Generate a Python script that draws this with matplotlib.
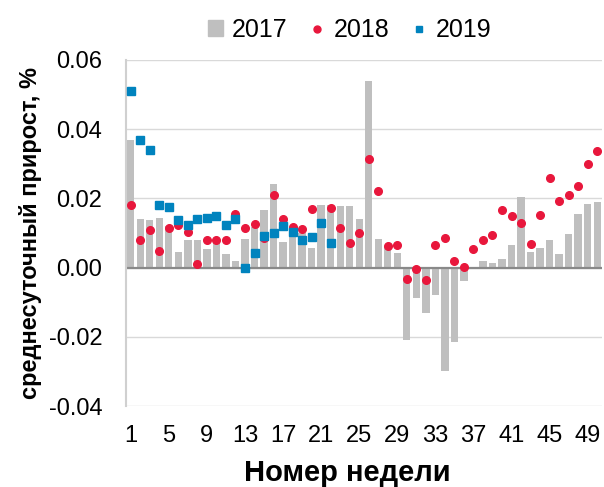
import matplotlib
matplotlib.use("Agg")
import matplotlib.pyplot as plt
from matplotlib.patches import Patch
from matplotlib.lines import Line2D

plt.rcParams['font.family'] = ['Liberation Sans', 'DejaVu Sans']

weeks = list(range(1, 51))

prirost_2017 = [0.0368, 0.0140, 0.0137, 0.0143, 0.0120, 0.0044, 0.0080, 0.0080, 0.0054, 0.0080,
                0.0039, 0.0020, 0.0083, 0.0118, 0.0166, 0.0241, 0.0074, 0.0118, 0.0100, 0.0056,
                0.0182, 0.0182, 0.0179, 0.0179, 0.0141, 0.0538, 0.0083, 0.0061, 0.0043, -0.0208,
                -0.0089, -0.0130, -0.0080, -0.0300, -0.0214, -0.0040, 0.0000, 0.0020, 0.0014, 0.0024,
                0.0064, 0.0203, 0.0045, 0.0057, 0.0080, 0.0039, 0.0097, 0.0155, 0.0183, 0.0189]

prirost_2018 = [0.0181, 0.0080, 0.0109, 0.0048, 0.0114, 0.0122, 0.0103, 0.0010, 0.0080, 0.0080,
                0.0080, 0.0155, 0.0114, 0.0125, 0.0084, 0.0209, 0.0139, 0.0118, 0.0110, 0.0170,
                0.0130, 0.0171, 0.0114, 0.0070, 0.0100, 0.0314, 0.0220, 0.0062, 0.0065, -0.0034,
                -0.0004, -0.0037, 0.0065, 0.0086, 0.0020, 0.0002, 0.0053, 0.0079, 0.0095, 0.0165,
                0.0149, 0.0129, 0.0067, 0.0151, 0.0259, 0.0193, 0.0209, 0.0236, 0.0299, 0.0337]

prirost_2019 = [0.0510, 0.0369, 0.0339, 0.0181, 0.0176, 0.0137, 0.0123, 0.0141, 0.0144, 0.0150,
                0.0123, 0.0141, 0.0000, 0.0043, 0.0092, 0.0101, 0.0121, 0.0104, 0.0081, 0.0089,
                0.0130, 0.0072]

x_ticks = list(range(1, 51, 4))
y_ticks = [-0.04, -0.02, 0.00, 0.02, 0.04, 0.06]

c_grey = "#BFBFBF"
c_red = "#E8173C"
c_blue = "#0083BE"

fig = plt.figure(figsize=(6.04, 4.87), dpi=100)
ax = fig.add_axes([0.2086, 0.1663, 0.788, 0.7107])

ax.bar(weeks, prirost_2017, width=0.77, color=c_grey, zorder=2)
ax.plot(weeks, prirost_2018, 'o', color=c_red, markersize=5.5, zorder=3)
ax.plot(weeks[:len(prirost_2019)], prirost_2019, 's', color=c_blue, markersize=5.8, zorder=4)

ax.axhline(0, color="#898989", linewidth=1.6, zorder=2.5)

ax.set_xlim(0.5, 50.5)
ax.set_ylim(-0.04, 0.06)
ax.set_xticks(x_ticks)
ax.set_yticks(y_ticks)
ax.set_yticklabels([f"{v:.2f}" for v in y_ticks])
ax.tick_params(length=0, labelsize=17)
ax.tick_params(axis='x', pad=14)
ax.tick_params(axis='y', pad=17)

ax.grid(axis='y', color="#D9D9D9", linewidth=1, zorder=0)
ax.set_axisbelow(True)

for name, spine in ax.spines.items():
    spine.set_visible(name == 'left')
ax.spines['left'].set_color("#D0D0D0")
ax.spines['left'].set_linewidth(1.5)

ax.set_xlabel("Номер недели", fontsize=21, fontweight='bold')
ax.xaxis.set_label_coords(0.464, -0.152)
ax.set_ylabel("среднесуточный прирост, %", fontsize=17, fontweight='bold', labelpad=5)

handles = [
    Patch(color=c_grey),
    Line2D([], [], marker='o', linestyle='', color=c_red, markersize=5),
    Line2D([], [], marker='s', linestyle='', color=c_blue, markersize=5),
]
fig.legend(handles, ["2017", "2018", "2019"], loc='center', bbox_to_anchor=(0.579, 0.938),
           ncol=3, frameon=False, fontsize=18, handlelength=0.6, handleheight=0.6,
           handletextpad=0.35, columnspacing=0.9)

fig.savefig("out.png", dpi=100)
